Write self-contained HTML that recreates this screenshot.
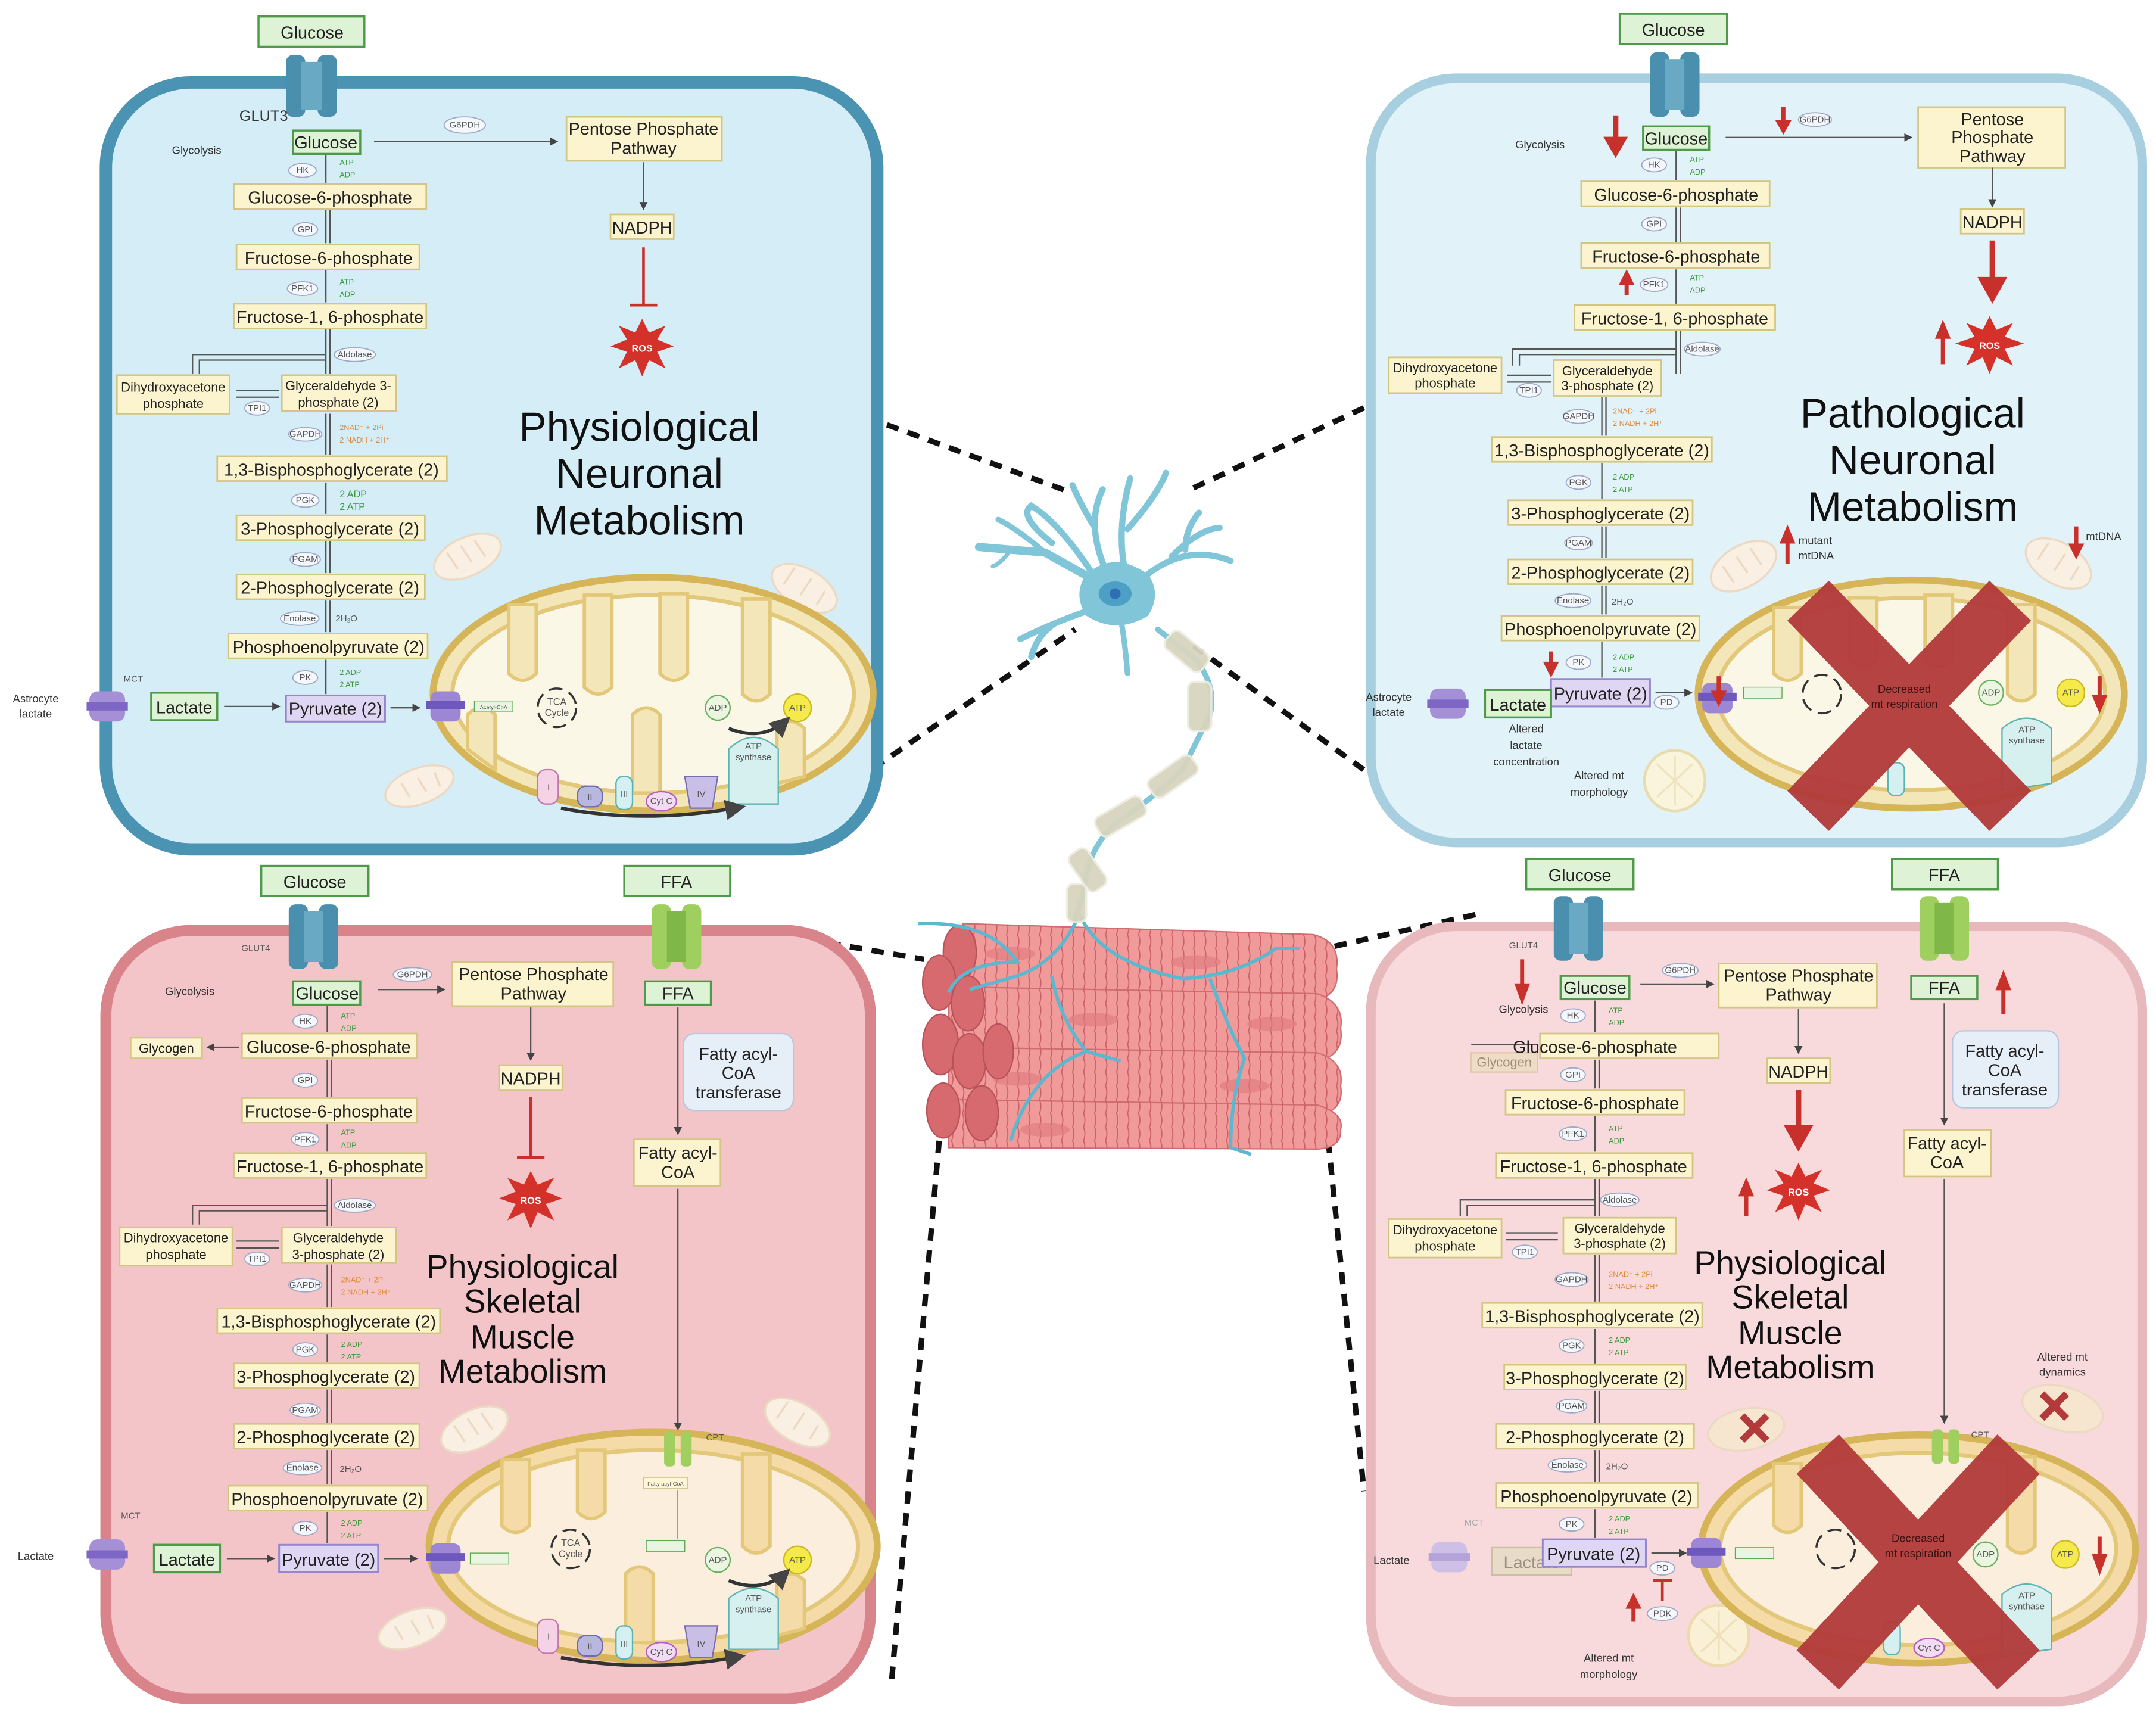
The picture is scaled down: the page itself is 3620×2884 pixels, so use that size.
<!DOCTYPE html>
<html><head><meta charset="utf-8"><style>
html,body{margin:0;padding:0;background:#fff}
svg{display:block}
.b{fill:#fbf4cf;stroke:#d3c685;stroke-width:1.2}
.g{fill:#def3d6;stroke:#4f9a4a;stroke-width:1.5}
.p{fill:#ded6f2;stroke:#9686cc;stroke-width:1.3}
text{font-family:"Liberation Sans",sans-serif}
.t{font-size:12.5px;fill:#222;text-anchor:middle}
.s{font-size:9.5px;fill:#222;text-anchor:middle}
.x{font-size:8px;fill:#333;text-anchor:middle}
.e{fill:#f4f7fc;stroke:#9fa9c6;stroke-width:.8}
.et{font-size:6.5px;fill:#555;text-anchor:middle}
.gr{font-size:5.5px;fill:#3a9a3a}
.or{font-size:5.5px;fill:#e08a3a}
.ttl{font-size:30px;fill:#111;text-anchor:middle}
.ttm{font-size:24px;fill:#111;text-anchor:middle}
.ln{stroke:#555;stroke-width:1;fill:none}
.dash{stroke:#111;stroke-width:4;stroke-dasharray:9 7;fill:none}
.red{stroke:#c8302c;fill:#c8302c}
.fm{fill:#f9efe2;stroke:#ecd9c4;stroke-width:1.5}
.mo{fill:#f3e6b8;stroke:#d6b458;stroke-width:5}
.mi{fill:#fbf7e6;stroke:#e3c87a;stroke-width:3}
.cr{fill:#f3e6b8;stroke:#e3c87a;stroke-width:2.5}
.bx{stroke:#b23a3a;stroke-width:42;stroke-linecap:butt;opacity:.95}
.fs{stroke:#ecd9c4;stroke-width:1.5;fill:none}
</style></head><body>
<svg width="3620" height="2884" viewBox="0 0 1568 1250" preserveAspectRatio="none" xmlns="http://www.w3.org/2000/svg">
<defs>
<marker id="ar" markerWidth="6" markerHeight="6" refX="5" refY="3" orient="auto"><path d="M0,0 L6,3 L0,6z" fill="#444"/></marker>
<pattern id="str" width="8" height="10" patternUnits="userSpaceOnUse"><path d="M4,0 Q6,5 4,10" stroke="#c9606a" stroke-width=".8" fill="none"/></pattern>
</defs>

<path class="dash" d="M615,298 L778,358"/>
<path class="dash" d="M622,568 L782,458"/>
<path class="dash" d="M868,355 L1002,292"/>
<path class="dash" d="M868,470 L1022,582"/>
<path class="dash" d="M555,678 L672,698"/>
<path class="dash" d="M955,692 L1075,665"/>
<path class="dash" d="M683,830 L648,1228"/>
<path class="dash" d="M966,830 L992,1085"/>

<rect x="77" y="60" width="561" height="558" rx="62" fill="#d5edf6" stroke="#4b93b3" stroke-width="9"/>
<rect x="997" y="57" width="561" height="556" rx="62" fill="#e2f2f9" stroke="#a8cfe0" stroke-width="7"/>
<rect x="77" y="677" width="556" height="559" rx="62" fill="#f4c5c8" stroke="#d9848a" stroke-width="8"/>
<rect x="997" y="674" width="561" height="564" rx="62" fill="#f8dadc" stroke="#e7b8bc" stroke-width="7"/>

<!-- TOP LEFT -->
<rect class="g" x="188" y="12" width="77" height="22"/><text class="t" x="227" y="28">Glucose</text>
<rect x="208" y="40" width="14" height="45" rx="5" fill="#4a8fae"/><rect x="231" y="40" width="14" height="45" rx="5" fill="#4a8fae"/><rect x="219" y="45" width="15" height="35" fill="#6aa9c4"/>
<text x="174" y="88" style="font-size:11px;fill:#333">GLUT3</text>
<text class="x" x="143" y="112">Glycolysis</text>
<rect class="g" x="213" y="95" width="49" height="17"/><text class="t" x="237" y="108">Glucose</text>
<path class="ln" d="M272,103 L405,103" marker-end="url(#ar)"/>
<ellipse class="e" cx="338" cy="91" rx="15" ry="6"/><text class="et" x="338" y="93">G6PDH</text>
<rect class="b" x="412" y="85" width="113" height="32"/><text class="t" x="468" y="98">Pentose Phosphate</text><text class="t" x="468" y="112">Pathway</text>
<path class="ln" d="M468,118 L468,152" marker-end="url(#ar)"/>
<rect class="b" x="444" y="156" width="46" height="18"/><text class="t" x="467" y="170">NADPH</text>
<path d="M468,180 L468,222 M458,222 L478,222" stroke="#c8302c" stroke-width="2" fill="none"/>
<polygon points="467,232 472,242 484,237 478,247 490,252 478,256 484,268 472,262 467,274 462,262 450,268 456,256 444,252 456,247 450,237 462,242" fill="#d5312b"/>
<text x="467" y="256" style="font-size:7px;fill:#fff;font-weight:bold" text-anchor="middle">ROS</text>
<path class="ln" d="M237,113 L237,133 M237,152 L237,177 M240,152 L240,177 M237,196 L237,220 M237,239 L237,272 M240,239 L240,272 M237,301 L237,331 M240,301 L240,331 M237,351 L237,374 M237,394 L237,417 M240,394 L240,417 M237,437 L237,460 M240,437 L240,460 M237,480 L237,505"/>
<path class="ln" d="M237,258 L140,258 L140,272 M237,262 L145,262 L145,272 M172,284 L203,284 M172,289 L203,289"/>
<ellipse class="e" cx="220" cy="124" rx="10" ry="5"/><text class="et" x="220" y="126">HK</text>
<text class="gr" x="247" y="120">ATP</text><text class="gr" x="247" y="129">ADP</text>
<rect class="b" x="170" y="134" width="140" height="18"/><text class="t" x="240" y="148">Glucose-6-phosphate</text>
<ellipse class="e" cx="222" cy="167" rx="9" ry="5"/><text class="et" x="222" y="169">GPI</text>
<rect class="b" x="172" y="178" width="133" height="18"/><text class="t" x="239" y="192">Fructose-6-phosphate</text>
<ellipse class="e" cx="220" cy="210" rx="11" ry="5"/><text class="et" x="220" y="212">PFK1</text>
<text class="gr" x="247" y="207">ATP</text><text class="gr" x="247" y="216">ADP</text>
<rect class="b" x="170" y="221" width="140" height="18"/><text class="t" x="240" y="235">Fructose-1, 6-phosphate</text>
<ellipse class="e" cx="258" cy="258" rx="15" ry="5"/><text class="et" x="258" y="260">Aldolase</text>
<rect class="b" x="85" y="273" width="82" height="28"/><text class="s" x="126" y="285">Dihydroxyacetone</text><text class="s" x="126" y="297">phosphate</text>
<rect class="b" x="205" y="273" width="83" height="26"/><text class="s" x="246" y="284">Glyceraldehyde 3-</text><text class="s" x="246" y="296">phosphate (2)</text>
<ellipse class="e" cx="187" cy="297" rx="9" ry="5"/><text class="et" x="187" y="299">TPI1</text>
<ellipse class="e" cx="222" cy="316" rx="12" ry="5"/><text class="et" x="222" y="318">GAPDH</text>
<text class="or" x="247" y="313">2NAD⁺ + 2Pi</text><text class="or" x="247" y="322">2 NADH + 2H⁺</text>
<rect class="b" x="158" y="332" width="167" height="18"/><text class="t" x="241" y="346">1,3-Bisphosphoglycerate (2)</text>
<ellipse class="e" cx="222" cy="364" rx="10" ry="5"/><text class="et" x="222" y="366">PGK</text>
<text class="gr" x="247" y="362" style="font-size:7px">2 ADP</text><text class="gr" x="247" y="371" style="font-size:7px">2 ATP</text>
<rect class="b" x="172" y="375" width="137" height="18"/><text class="t" x="240" y="389">3-Phosphoglycerate (2)</text>
<ellipse class="e" cx="222" cy="407" rx="11" ry="5"/><text class="et" x="222" y="409">PGAM</text>
<rect class="b" x="172" y="418" width="137" height="18"/><text class="t" x="240" y="432">2-Phosphoglycerate (2)</text>
<ellipse class="e" cx="218" cy="450" rx="14" ry="5"/><text class="et" x="218" y="452">Enolase</text><text class="et" x="252" y="452">2H₂O</text>
<rect class="b" x="166" y="461" width="145" height="18"/><text class="t" x="239" y="475">Phosphoenolpyruvate (2)</text>
<ellipse class="e" cx="222" cy="493" rx="9" ry="5"/><text class="et" x="222" y="495">PK</text>
<text class="gr" x="247" y="491">2 ADP</text><text class="gr" x="247" y="500">2 ATP</text>
<rect class="p" x="208" y="506" width="72" height="19"/><text class="t" x="244" y="520">Pyruvate (2)</text>
<rect class="g" x="110" y="504" width="48" height="20"/><text class="t" x="134" y="519">Lactate</text>
<path class="ln" d="M163,514 L203,514" marker-end="url(#ar)"/><path class="ln" d="M284,515 L305,515" marker-end="url(#ar)"/>
<text class="x" x="26" y="511">Astrocyte</text><text class="x" x="26" y="522">lactate</text><text class="et" x="97" y="496">MCT</text>
<rect x="65" y="503" width="26" height="22" rx="6" fill="#a58fd6"/><rect x="63" y="511" width="30" height="6" fill="#7e67c4"/>
<ellipse class="fm" cx="340" cy="405" rx="26" ry="14" transform="rotate(-25 340 405)"/>
<path class="fs" d="M325,402 L333,414 M335,397 L343,409 M345,393 L353,405"/>
<ellipse class="fm" cx="585" cy="428" rx="26" ry="14" transform="rotate(30 585 428)"/>
<path class="fs" d="M570,425 L578,413 M582,433 L590,421 M594,440 L600,430"/>
<ellipse class="fm" cx="305" cy="572" rx="26" ry="13" transform="rotate(-20 305 572)"/>
<path class="fs" d="M292,570 L298,580 M304,566 L310,576 M316,562 L320,572"/>
<ellipse class="mo" cx="475" cy="505" rx="160" ry="85"/>
<ellipse class="mi" cx="475" cy="505" rx="146" ry="72"/>
<path class="cr" d="M370,440 L370,490 Q380,500 390,490 L390,440 Z M425,433 L425,500 Q435,510 445,500 L445,433 Z M480,432 L480,490 Q490,500 500,490 L500,432 Z M540,436 L540,505 Q550,515 560,505 L560,436 Z M460,577 L460,520 Q470,510 480,520 L480,577 Z M565,570 L565,530 Q575,520 585,530 L585,565Z M340,545 L340,520 Q350,510 360,520 L360,560Z"/>
<rect x="313" y="503" width="22" height="22" rx="5" fill="#9d87d4"/><rect x="310" y="510" width="28" height="6" fill="#6f58bd"/>
<rect x="345" y="510" width="28" height="8" fill="#e9f5e0" stroke="#5ea856" stroke-width=".6"/><text class="et" x="359" y="516" style="font-size:4px">Acetyl-CoA</text>
<circle cx="405" cy="515" r="14" fill="none" stroke="#333" stroke-width="1.5" stroke-dasharray="10 5"/><text class="et" x="405" y="513" style="font-size:7px">TCA</text><text class="et" x="405" y="521" style="font-size:7px">Cycle</text>
<circle cx="522" cy="515" r="9" fill="#eaf6e0" stroke="#6bb060"/><text class="et" x="522" y="517">ADP</text>
<circle cx="580" cy="515" r="10" fill="#f6e94a" stroke="#c9b827"/><text class="et" x="580" y="517">ATP</text>
<path d="M530,530 Q555,540 573,523" stroke="#333" stroke-width="2.5" fill="none" marker-end="url(#ar)"/>
<path d="M530,585 L530,545 Q548,528 566,545 L566,585 Z" fill="#d6efef" stroke="#5cb3b3"/><text class="et" x="548" y="545">ATP</text><text class="et" x="548" y="553">synthase</text>
<rect x="391" y="560" width="15" height="25" rx="6" fill="#f5d2e6" stroke="#c07aa8"/><text class="et" x="399" y="575">I</text>
<rect x="420" y="572" width="18" height="15" rx="6" fill="#b7b7e0" stroke="#6b6bb0"/><text class="et" x="429" y="582">II</text>
<rect x="448" y="565" width="12" height="24" rx="5" fill="#d5f0f0" stroke="#5cb3b3"/><text class="et" x="454" y="580">III</text>
<ellipse cx="481" cy="583" rx="11" ry="7" fill="#f1dcf3" stroke="#b65fc0"/><text class="et" x="481" y="585">Cyt C</text>
<path d="M498,565 L522,565 L518,588 L502,588Z" fill="#c9bfe6" stroke="#7a6bb5"/><text class="et" x="510" y="580">IV</text>
<path d="M408,588 Q470,600 540,587" stroke="#333" stroke-width="2.5" fill="none" marker-end="url(#ar)"/>
<text class="ttl" x="465" y="321">Physiological</text><text class="ttl" x="465" y="355">Neuronal</text><text class="ttl" x="465" y="389">Metabolism</text>

<!-- TOP RIGHT -->
<rect class="g" x="1178" y="10" width="78" height="22"/><text class="t" x="1217" y="26">Glucose</text>
<rect x="1200" y="38" width="14" height="47" rx="5" fill="#4a8fae"/><rect x="1222" y="38" width="14" height="47" rx="5" fill="#4a8fae"/><rect x="1211" y="43" width="14" height="37" fill="#6aa9c4"/>
<text class="x" x="1120" y="108">Glycolysis</text>
<path class="red" d="M1175,84 L1175,103" stroke-width="4"/><polygon class="red" points="1167,100 1183,100 1175,114"/>
<rect class="g" x="1195" y="92" width="48" height="17"/><text class="t" x="1219" y="105">Glucose</text>
<path class="ln" d="M1255,100 L1390,100" marker-end="url(#ar)"/>
<path class="red" d="M1297,78 L1297,90" stroke-width="3"/><polygon class="red" points="1292,88 1302,88 1297,97"/>
<ellipse class="e" cx="1320" cy="87" rx="12" ry="5"/><text class="et" x="1320" y="89">G6PDH</text>
<rect class="b" x="1395" y="78" width="107" height="44"/><text class="t" x="1449" y="91">Pentose</text><text class="t" x="1449" y="104">Phosphate</text><text class="t" x="1449" y="118">Pathway</text>
<path class="ln" d="M1449,122 L1449,150" marker-end="url(#ar)"/>
<rect class="b" x="1426" y="152" width="46" height="18"/><text class="t" x="1449" y="166">NADPH</text>
<path class="red" d="M1449,175 L1449,205" stroke-width="4"/><polygon class="red" points="1439,202 1459,202 1449,220"/>
<polygon points="1447,230 1452,240 1464,235 1458,245 1472,250 1458,254 1464,266 1452,260 1447,272 1442,260 1430,266 1436,254 1422,250 1436,245 1430,235 1442,240" fill="#d5312b"/>
<text x="1447" y="254" style="font-size:7px;fill:#fff;font-weight:bold" text-anchor="middle">ROS</text>
<path class="red" d="M1413,265 L1413,243" stroke-width="3"/><polygon class="red" points="1408,246 1418,246 1413,234"/>
<path class="ln" d="M1219,110 L1219,131 M1219,151 L1219,176 M1222,151 L1222,176 M1219,196 L1219,221 M1219,241 L1219,272 M1222,241 L1222,272 M1165,289 L1165,317 M1168,289 L1168,317 M1165,337 L1165,363 M1165,383 L1165,406 M1168,383 L1168,406 M1165,426 L1165,447 M1168,426 L1168,447 M1165,467 L1165,493"/>
<path class="ln" d="M1219,254 L1100,254 L1100,266 M1219,258 L1105,258 L1105,266 M1096,273 L1128,273 M1096,278 L1128,278"/>
<ellipse class="e" cx="1203" cy="120" rx="9" ry="5"/><text class="et" x="1203" y="122">HK</text>
<text class="gr" x="1229" y="118">ATP</text><text class="gr" x="1229" y="127">ADP</text>
<rect class="b" x="1150" y="132" width="137" height="18"/><text class="t" x="1219" y="146">Glucose-6-phosphate</text>
<ellipse class="e" cx="1203" cy="163" rx="9" ry="5"/><text class="et" x="1203" y="165">GPI</text>
<rect class="b" x="1150" y="177" width="137" height="18"/><text class="t" x="1219" y="191">Fructose-6-phosphate</text>
<path class="red" d="M1183,215 L1183,205" stroke-width="3"/><polygon class="red" points="1178,207 1188,207 1183,197"/>
<ellipse class="e" cx="1203" cy="207" rx="10" ry="5"/><text class="et" x="1203" y="209">PFK1</text>
<text class="gr" x="1229" y="204">ATP</text><text class="gr" x="1229" y="213">ADP</text>
<rect class="b" x="1145" y="222" width="146" height="18"/><text class="t" x="1218" y="236">Fructose-1, 6-phosphate</text>
<ellipse class="e" cx="1238" cy="254" rx="13" ry="5"/><text class="et" x="1238" y="256">Aldolase</text>
<rect class="b" x="1010" y="260" width="82" height="26"/><text class="s" x="1051" y="271">Dihydroxyacetone</text><text class="s" x="1051" y="282">phosphate</text>
<rect class="b" x="1130" y="262" width="78" height="26"/><text class="s" x="1169" y="273">Glyceraldehyde</text><text class="s" x="1169" y="284">3-phosphate (2)</text>
<ellipse class="e" cx="1112" cy="284" rx="9" ry="5"/><text class="et" x="1112" y="286">TPI1</text>
<ellipse class="e" cx="1148" cy="303" rx="11" ry="5"/><text class="et" x="1148" y="305">GAPDH</text>
<text class="or" x="1173" y="301">2NAD⁺ + 2Pi</text><text class="or" x="1173" y="310">2 NADH + 2H⁺</text>
<rect class="b" x="1085" y="318" width="160" height="18"/><text class="t" x="1165" y="332">1,3-Bisphosphoglycerate (2)</text>
<ellipse class="e" cx="1148" cy="351" rx="9" ry="5"/><text class="et" x="1148" y="353">PGK</text>
<text class="gr" x="1173" y="349">2 ADP</text><text class="gr" x="1173" y="358">2 ATP</text>
<rect class="b" x="1097" y="364" width="134" height="18"/><text class="t" x="1164" y="378">3-Phosphoglycerate (2)</text>
<ellipse class="e" cx="1148" cy="395" rx="10" ry="5"/><text class="et" x="1148" y="397">PGAM</text>
<rect class="b" x="1097" y="407" width="134" height="18"/><text class="t" x="1164" y="421">2-Phosphoglycerate (2)</text>
<ellipse class="e" cx="1144" cy="437" rx="13" ry="5"/><text class="et" x="1144" y="439">Enolase</text><text class="et" x="1180" y="440">2H₂O</text>
<rect class="b" x="1092" y="448" width="144" height="18"/><text class="t" x="1164" y="462">Phosphoenolpyruvate (2)</text>
<ellipse class="e" cx="1148" cy="482" rx="9" ry="5"/><text class="et" x="1148" y="484">PK</text>
<text class="gr" x="1173" y="480">2 ADP</text><text class="gr" x="1173" y="489">2 ATP</text>
<path class="red" d="M1128,474 L1128,484" stroke-width="3"/><polygon class="red" points="1123,482 1133,482 1128,492"/>
<rect class="p" x="1128" y="494" width="72" height="20"/><text class="t" x="1164" y="509">Pyruvate (2)</text>
<rect class="g" x="1080" y="502" width="48" height="20"/><text class="t" x="1104" y="517">Lactate</text>
<ellipse class="e" cx="1212" cy="511" rx="9" ry="5"/><text class="et" x="1212" y="513">PD</text>
<path class="ln" d="M1204,504 L1230,504" marker-end="url(#ar)"/>
<text class="x" x="1010" y="510">Astrocyte</text><text class="x" x="1010" y="521">lactate</text>
<rect x="1040" y="501" width="26" height="22" rx="6" fill="#a58fd6"/><rect x="1038" y="509" width="30" height="6" fill="#7e67c4"/>
<text class="x" x="1110" y="533">Altered</text><text class="x" x="1110" y="545">lactate</text><text class="x" x="1110" y="557">concentration</text>
<text class="x" x="1163" y="567">Altered mt</text><text class="x" x="1163" y="579">morphology</text>
<circle cx="1218" cy="568" r="22" fill="#faf4dc" stroke="#e8dcae" stroke-width="2"/>
<path d="M1218,550 L1218,586 M1205,556 L1231,580 M1231,556 L1205,580" stroke="#efe4c0" stroke-width="1.5"/>
<text class="ttl" x="1391" y="311">Pathological</text><text class="ttl" x="1391" y="345">Neuronal</text><text class="ttl" x="1391" y="379">Metabolism</text>
<ellipse class="fm" cx="1268" cy="412" rx="26" ry="15" transform="rotate(-30 1268 412)"/>
<path class="fs" d="M1253,412 L1261,424 M1263,405 L1271,417 M1273,399 L1281,411"/>
<ellipse class="fm" cx="1497" cy="410" rx="26" ry="15" transform="rotate(30 1497 410)"/>
<path class="fs" d="M1482,407 L1490,395 M1494,415 L1502,403 M1506,422 L1512,412"/>
<path class="red" d="M1300,410 L1300,393" stroke-width="3"/><polygon class="red" points="1295,395 1305,395 1300,383"/>
<text class="x" x="1308" y="396" style="text-anchor:start">mutant</text><text class="x" x="1308" y="407" style="text-anchor:start">mtDNA</text>
<path class="red" d="M1510,383 L1510,398" stroke-width="3"/><polygon class="red" points="1505,396 1515,396 1510,406"/>
<text class="x" x="1517" y="393" style="text-anchor:start">mtDNA</text>
<ellipse class="mo" cx="1390" cy="505" rx="155" ry="83"/>
<ellipse class="mi" cx="1390" cy="505" rx="141" ry="70"/>
<path class="cr" d="M1290,442 L1290,490 Q1300,500 1310,490 L1310,442Z M1345,435 L1345,480 Q1355,490 1365,480 L1365,435Z M1400,433 L1400,480 Q1410,490 1420,480 L1420,433Z M1460,440 L1460,505 Q1470,515 1480,505 L1480,440Z"/>
<rect x="1238" y="497" width="22" height="22" rx="5" fill="#9d87d4"/><rect x="1235" y="504" width="28" height="6" fill="#6f58bd"/>
<path class="red" d="M1250,492 L1250,505" stroke-width="3"/><polygon class="red" points="1245,503 1255,503 1250,513"/>
<rect x="1268" y="500" width="28" height="8" fill="#e9f5e0" stroke="#5ea856" stroke-width=".6"/>
<circle cx="1325" cy="505" r="14" fill="none" stroke="#333" stroke-width="1.5" stroke-dasharray="10 5"/>
<circle cx="1448" cy="504" r="9" fill="#eaf6e0" stroke="#6bb060"/><text class="et" x="1448" y="506">ADP</text>
<circle cx="1506" cy="504" r="10" fill="#f6e94a" stroke="#c9b827"/><text class="et" x="1506" y="506">ATP</text>
<path class="red" d="M1527,492 L1527,508" stroke-width="3"/><polygon class="red" points="1522,506 1532,506 1527,518"/>
<path d="M1456,575 L1456,530 Q1474,515 1492,530 L1492,570Z" fill="#d6efef" stroke="#5cb3b3"/><text class="et" x="1474" y="533">ATP</text><text class="et" x="1474" y="541">synthase</text>
<rect x="1373" y="555" width="12" height="24" rx="5" fill="#d5f0f0" stroke="#5cb3b3"/>
<path class="bx" d="M1315,437 L1462,590 M1462,437 L1315,590"/>
<text class="x" x="1385" y="504" style="fill:#3a1010">Decreased</text><text class="x" x="1385" y="515" style="fill:#3a1010">mt respiration</text>

<!-- BOTTOM LEFT -->
<rect class="g" x="190" y="630" width="78" height="22"/><text class="t" x="229" y="646">Glucose</text>
<rect x="210" y="658" width="14" height="47" rx="5" fill="#4a8fae"/><rect x="232" y="658" width="14" height="47" rx="5" fill="#4a8fae"/><rect x="221" y="663" width="14" height="37" fill="#6aa9c4"/>
<text class="et" x="186" y="692">GLUT4</text>
<rect class="g" x="454" y="630" width="77" height="22"/><text class="t" x="492" y="646">FFA</text>
<rect x="474" y="658" width="14" height="47" rx="5" fill="#9fcf5e"/><rect x="496" y="658" width="14" height="47" rx="5" fill="#9fcf5e"/><rect x="485" y="663" width="14" height="37" fill="#7fb848"/>
<text class="x" x="138" y="724">Glycolysis</text>
<rect class="g" x="213" y="714" width="49" height="17"/><text class="t" x="238" y="727">Glucose</text>
<path class="ln" d="M275,720 L323,720" marker-end="url(#ar)"/>
<ellipse class="e" cx="300" cy="709" rx="14" ry="5"/><text class="et" x="300" y="711">G6PDH</text>
<rect class="b" x="329" y="700" width="117" height="32"/><text class="t" x="388" y="713">Pentose Phosphate</text><text class="t" x="388" y="727">Pathway</text>
<path class="ln" d="M386,733 L386,771" marker-end="url(#ar)"/>
<rect class="b" x="363" y="775" width="46" height="18"/><text class="t" x="386" y="789">NADPH</text>
<path d="M386,798 L386,842 M376,842 L396,842" stroke="#c8302c" stroke-width="2" fill="none"/>
<polygon points="386,852 391,862 403,857 397,867 409,872 397,876 403,888 391,882 386,894 381,882 369,888 375,876 363,872 375,867 369,857 381,862" fill="#d5312b"/>
<text x="386" y="876" style="font-size:7px;fill:#fff;font-weight:bold" text-anchor="middle">ROS</text>
<rect class="g" x="469" y="714" width="48" height="17"/><text class="t" x="493" y="727">FFA</text>
<rect x="497" y="752" width="80" height="56" rx="8" fill="#e6eef8" stroke="#b7c7dd"/><text class="t" x="537" y="771">Fatty acyl-</text><text class="t" x="537" y="785">CoA</text><text class="t" x="537" y="799">transferase</text>
<path class="ln" d="M493,733 L493,825" marker-end="url(#ar)"/>
<rect class="b" x="461" y="829" width="63" height="34"/><text class="t" x="493" y="843">Fatty acyl-</text><text class="t" x="493" y="857">CoA</text>
<path class="ln" d="M493,865 L493,1040" marker-end="url(#ar)"/>
<rect class="b" x="95" y="755" width="52" height="15"/><text class="s" x="121" y="766">Glycogen</text>
<path class="ln" d="M174,762 L151,762" marker-end="url(#ar)"/>
<path class="ln" d="M238,732 L238,751 M238,771 L238,798 M241,771 L241,798 M238,818 L238,838 M238,858 L238,892 M241,858 L241,892 M238,920 L238,951 M241,920 L241,951 M238,971 L238,991 M238,1011 L238,1035 M241,1011 L241,1035 M238,1055 L238,1080 M241,1055 L241,1080 M238,1100 L238,1123"/>
<path class="ln" d="M238,877 L140,877 L140,891 M238,881 L145,881 L145,891 M172,903 L203,903 M172,908 L203,908"/>
<ellipse class="e" cx="222" cy="743" rx="9" ry="5"/><text class="et" x="222" y="745">HK</text>
<text class="gr" x="248" y="741">ATP</text><text class="gr" x="248" y="750">ADP</text>
<rect class="b" x="176" y="752" width="127" height="18"/><text class="t" x="239" y="766">Glucose-6-phosphate</text>
<ellipse class="e" cx="222" cy="786" rx="9" ry="5"/><text class="et" x="222" y="788">GPI</text>
<rect class="b" x="176" y="799" width="127" height="18"/><text class="t" x="239" y="813">Fructose-6-phosphate</text>
<ellipse class="e" cx="222" cy="829" rx="10" ry="5"/><text class="et" x="222" y="831">PFK1</text>
<text class="gr" x="248" y="826">ATP</text><text class="gr" x="248" y="835">ADP</text>
<rect class="b" x="170" y="839" width="140" height="18"/><text class="t" x="240" y="853">Fructose-1, 6-phosphate</text>
<ellipse class="e" cx="258" cy="877" rx="15" ry="5"/><text class="et" x="258" y="879">Aldolase</text>
<rect class="b" x="87" y="893" width="82" height="28"/><text class="s" x="128" y="904">Dihydroxyacetone</text><text class="s" x="128" y="916">phosphate</text>
<rect class="b" x="205" y="893" width="83" height="26"/><text class="s" x="246" y="904">Glyceraldehyde</text><text class="s" x="246" y="916">3-phosphate (2)</text>
<ellipse class="e" cx="187" cy="916" rx="9" ry="5"/><text class="et" x="187" y="918">TPI1</text>
<ellipse class="e" cx="222" cy="935" rx="12" ry="5"/><text class="et" x="222" y="937">GAPDH</text>
<text class="or" x="248" y="933">2NAD⁺ + 2Pi</text><text class="or" x="248" y="942">2 NADH + 2H⁺</text>
<rect class="b" x="158" y="952" width="162" height="18"/><text class="t" x="239" y="966">1,3-Bisphosphoglycerate (2)</text>
<ellipse class="e" cx="222" cy="982" rx="9" ry="5"/><text class="et" x="222" y="984">PGK</text>
<text class="gr" x="248" y="980">2 ADP</text><text class="gr" x="248" y="989">2 ATP</text>
<rect class="b" x="170" y="992" width="135" height="18"/><text class="t" x="237" y="1006">3-Phosphoglycerate (2)</text>
<ellipse class="e" cx="222" cy="1026" rx="11" ry="5"/><text class="et" x="222" y="1028">PGAM</text>
<rect class="b" x="170" y="1036" width="135" height="18"/><text class="t" x="237" y="1050">2-Phosphoglycerate (2)</text>
<ellipse class="e" cx="220" cy="1068" rx="14" ry="5"/><text class="et" x="220" y="1070">Enolase</text><text class="et" x="255" y="1071">2H₂O</text>
<rect class="b" x="166" y="1081" width="145" height="18"/><text class="t" x="238" y="1095">Phosphoenolpyruvate (2)</text>
<ellipse class="e" cx="222" cy="1112" rx="9" ry="5"/><text class="et" x="222" y="1114">PK</text>
<text class="gr" x="248" y="1110">2 ADP</text><text class="gr" x="248" y="1119">2 ATP</text>
<rect class="p" x="203" y="1124" width="72" height="20"/><text class="t" x="239" y="1139">Pyruvate (2)</text>
<rect class="g" x="112" y="1124" width="48" height="20"/><text class="t" x="136" y="1139">Lactate</text>
<path class="ln" d="M165,1134 L199,1134" marker-end="url(#ar)"/><path class="ln" d="M279,1134 L303,1134" marker-end="url(#ar)"/>
<text class="x" x="26" y="1135">Lactate</text><text class="et" x="95" y="1105">MCT</text>
<rect x="65" y="1120" width="26" height="22" rx="6" fill="#a58fd6"/><rect x="63" y="1128" width="30" height="6" fill="#7e67c4"/>
<text class="ttm" x="380" y="930">Physiological</text><text class="ttm" x="380" y="955">Skeletal</text><text class="ttm" x="380" y="981">Muscle</text><text class="ttm" x="380" y="1006">Metabolism</text>
<ellipse class="fm" cx="345" cy="1040" rx="26" ry="14" transform="rotate(-25 345 1040)"/>
<path class="fs" d="M330,1037 L338,1049 M340,1032 L348,1044 M350,1028 L358,1040"/>
<ellipse class="fm" cx="580" cy="1035" rx="26" ry="14" transform="rotate(30 580 1035)"/>
<path class="fs" d="M565,1032 L573,1020 M577,1040 L585,1028 M589,1047 L595,1037"/>
<ellipse class="fm" cx="300" cy="1185" rx="26" ry="13" transform="rotate(-20 300 1185)"/>
<path class="fs" d="M287,1183 L293,1193 M299,1179 L305,1189 M311,1175 L315,1185"/>
<ellipse class="mo" cx="475" cy="1125" rx="163" ry="83" style="fill:#f5dba8"/>
<ellipse class="mi" cx="475" cy="1125" rx="149" ry="70" style="fill:#fbeedd"/>
<path class="cr" d="M365,1062 L365,1110 Q375,1120 385,1110 L385,1062Z M420,1055 L420,1100 Q430,1110 440,1100 L440,1055Z M540,1058 L540,1125 Q550,1135 560,1125 L560,1058Z M455,1195 L455,1145 Q465,1135 475,1145 L475,1195Z M565,1190 L565,1150 Q575,1140 585,1150 L585,1185Z" style="fill:#f5dba8"/>
<rect x="483" y="1042" width="8" height="25" rx="3" fill="#9fcf5e"/><rect x="495" y="1042" width="8" height="25" rx="3" fill="#9fcf5e"/>
<text class="et" x="520" y="1048">CPT</text>
<rect x="468" y="1075" width="32" height="8" fill="#fff6d8" stroke="#cfc28a" stroke-width=".5"/><text class="et" x="484" y="1081" style="font-size:4px">Fatty acyl-CoA</text>
<path class="ln" d="M493,1084 L493,1120" style="stroke-width:.6"/>
<rect x="470" y="1121" width="28" height="8" fill="#e9f5e0" stroke="#5ea856" stroke-width=".6"/>
<rect x="313" y="1123" width="22" height="22" rx="5" fill="#9d87d4"/><rect x="310" y="1130" width="28" height="6" fill="#6f58bd"/>
<rect x="342" y="1130" width="28" height="8" fill="#e9f5e0" stroke="#5ea856" stroke-width=".6"/>
<circle cx="415" cy="1127" r="14" fill="none" stroke="#333" stroke-width="1.5" stroke-dasharray="10 5"/><text class="et" x="415" y="1125" style="font-size:7px">TCA</text><text class="et" x="415" y="1133" style="font-size:7px">Cycle</text>
<circle cx="522" cy="1135" r="9" fill="#eaf6e0" stroke="#6bb060"/><text class="et" x="522" y="1137">ADP</text>
<circle cx="580" cy="1135" r="10" fill="#f6e94a" stroke="#c9b827"/><text class="et" x="580" y="1137">ATP</text>
<path d="M530,1150 Q555,1160 573,1143" stroke="#333" stroke-width="2.5" fill="none" marker-end="url(#ar)"/>
<path d="M530,1200 L530,1163 Q548,1148 566,1163 L566,1200Z" fill="#d6efef" stroke="#5cb3b3"/><text class="et" x="548" y="1165">ATP</text><text class="et" x="548" y="1173">synthase</text>
<rect x="391" y="1178" width="15" height="25" rx="6" fill="#f5d2e6" stroke="#c07aa8"/><text class="et" x="399" y="1193">I</text>
<rect x="420" y="1190" width="18" height="15" rx="6" fill="#b7b7e0" stroke="#6b6bb0"/><text class="et" x="429" y="1200">II</text>
<rect x="448" y="1183" width="12" height="24" rx="5" fill="#d5f0f0" stroke="#5cb3b3"/><text class="et" x="454" y="1198">III</text>
<ellipse cx="481" cy="1202" rx="11" ry="7" fill="#f1dcf3" stroke="#b65fc0"/><text class="et" x="481" y="1204">Cyt C</text>
<path d="M498,1183 L522,1183 L518,1206 L502,1206Z" fill="#c9bfe6" stroke="#7a6bb5"/><text class="et" x="510" y="1198">IV</text>
<path d="M408,1206 Q470,1218 540,1205" stroke="#333" stroke-width="2.5" fill="none" marker-end="url(#ar)"/>

<!-- BOTTOM RIGHT -->
<rect class="g" x="1110" y="625" width="78" height="22"/><text class="t" x="1149" y="641">Glucose</text>
<rect x="1130" y="652" width="14" height="47" rx="5" fill="#4a8fae"/><rect x="1152" y="652" width="14" height="47" rx="5" fill="#4a8fae"/><rect x="1141" y="657" width="14" height="37" fill="#6aa9c4"/>
<text class="et" x="1108" y="690">GLUT4</text>
<rect class="g" x="1376" y="625" width="77" height="22"/><text class="t" x="1414" y="641">FFA</text>
<rect x="1396" y="652" width="14" height="47" rx="5" fill="#9fcf5e"/><rect x="1418" y="652" width="14" height="47" rx="5" fill="#9fcf5e"/><rect x="1407" y="657" width="14" height="37" fill="#7fb848"/>
<path class="red" d="M1107,698 L1107,718" stroke-width="3"/><polygon class="red" points="1102,716 1112,716 1107,730"/>
<text class="x" x="1108" y="737">Glycolysis</text>
<rect class="g" x="1135" y="710" width="50" height="17"/><text class="t" x="1160" y="723">Glucose</text>
<path class="ln" d="M1193,716 L1246,716" marker-end="url(#ar)"/>
<ellipse class="e" cx="1222" cy="706" rx="13" ry="5"/><text class="et" x="1222" y="708">G6PDH</text>
<rect class="b" x="1250" y="701" width="115" height="32"/><text class="t" x="1308" y="714">Pentose Phosphate</text><text class="t" x="1308" y="728">Pathway</text>
<path class="ln" d="M1308,734 L1308,766" marker-end="url(#ar)"/>
<rect class="b" x="1285" y="770" width="46" height="18"/><text class="t" x="1308" y="784">NADPH</text>
<path class="red" d="M1308,793 L1308,822" stroke-width="4"/><polygon class="red" points="1298,819 1318,819 1308,837"/>
<polygon points="1308,846 1313,856 1325,851 1319,861 1331,866 1319,870 1325,882 1313,876 1308,888 1303,876 1291,882 1297,870 1285,866 1297,861 1291,851 1303,856" fill="#d5312b"/>
<text x="1308" y="870" style="font-size:7px;fill:#fff;font-weight:bold" text-anchor="middle">ROS</text>
<path class="red" d="M1270,885 L1270,868" stroke-width="3"/><polygon class="red" points="1265,870 1275,870 1270,858"/>
<rect class="g" x="1390" y="710" width="48" height="17"/><text class="t" x="1414" y="723">FFA</text>
<path class="red" d="M1457,738 L1457,718" stroke-width="3"/><polygon class="red" points="1452,720 1462,720 1457,707"/>
<rect x="1420" y="750" width="77" height="56" rx="8" fill="#e6eef8" stroke="#b7c7dd"/><text class="t" x="1458" y="769">Fatty acyl-</text><text class="t" x="1458" y="783">CoA</text><text class="t" x="1458" y="797">transferase</text>
<path class="ln" d="M1414,730 L1414,818" marker-end="url(#ar)"/>
<rect class="b" x="1385" y="822" width="63" height="34"/><text class="t" x="1416" y="836">Fatty acyl-</text><text class="t" x="1416" y="850">CoA</text>
<path class="ln" d="M1414,858 L1414,1035" marker-end="url(#ar)"/>
<rect x="1070" y="766" width="48" height="14" fill="#efdcc6" stroke="#e2c6a8"/><text class="s" x="1094" y="776" style="fill:#a08a78">Glycogen</text>
<path class="ln" d="M1118,760 L1070,760"/>
<path class="ln" d="M1160,728 L1160,751 M1160,771 L1160,792 M1163,771 L1163,792 M1160,812 L1160,838 M1160,858 L1160,885 M1163,858 L1163,885 M1160,913 L1160,947 M1163,913 L1163,947 M1160,967 L1160,992 M1160,1012 L1160,1035 M1163,1012 L1163,1035 M1160,1055 L1160,1078 M1163,1055 L1163,1078 M1160,1098 L1160,1119"/>
<path class="ln" d="M1160,873 L1062,873 L1062,885 M1160,877 L1067,877 L1067,885 M1095,897 L1133,897 M1095,902 L1133,902"/>
<ellipse class="e" cx="1144" cy="739" rx="9" ry="5"/><text class="et" x="1144" y="741">HK</text>
<text class="gr" x="1170" y="737">ATP</text><text class="gr" x="1170" y="746">ADP</text>
<rect class="b" x="1120" y="752" width="130" height="18"/><text class="t" x="1160" y="766">Glucose-6-phosphate</text>
<ellipse class="e" cx="1144" cy="782" rx="9" ry="5"/><text class="et" x="1144" y="784">GPI</text>
<rect class="b" x="1095" y="793" width="130" height="18"/><text class="t" x="1160" y="807">Fructose-6-phosphate</text>
<ellipse class="e" cx="1144" cy="825" rx="10" ry="5"/><text class="et" x="1144" y="827">PFK1</text>
<text class="gr" x="1170" y="823">ATP</text><text class="gr" x="1170" y="832">ADP</text>
<rect class="b" x="1088" y="839" width="143" height="18"/><text class="t" x="1159" y="853">Fructose-1, 6-phosphate</text>
<ellipse class="e" cx="1178" cy="873" rx="14" ry="5"/><text class="et" x="1178" y="875">Aldolase</text>
<rect class="b" x="1010" y="887" width="82" height="28"/><text class="s" x="1051" y="898">Dihydroxyacetone</text><text class="s" x="1051" y="910">phosphate</text>
<rect class="b" x="1137" y="886" width="82" height="26"/><text class="s" x="1178" y="897">Glyceraldehyde</text><text class="s" x="1178" y="908">3-phosphate (2)</text>
<ellipse class="e" cx="1109" cy="911" rx="9" ry="5"/><text class="et" x="1109" y="913">TPI1</text>
<ellipse class="e" cx="1143" cy="931" rx="12" ry="5"/><text class="et" x="1143" y="933">GAPDH</text>
<text class="or" x="1170" y="929">2NAD⁺ + 2Pi</text><text class="or" x="1170" y="938">2 NADH + 2H⁺</text>
<rect class="b" x="1078" y="948" width="160" height="18"/><text class="t" x="1158" y="962">1,3-Bisphosphoglycerate (2)</text>
<ellipse class="e" cx="1143" cy="979" rx="9" ry="5"/><text class="et" x="1143" y="981">PGK</text>
<text class="gr" x="1170" y="977">2 ADP</text><text class="gr" x="1170" y="986">2 ATP</text>
<rect class="b" x="1094" y="993" width="132" height="18"/><text class="t" x="1160" y="1007">3-Phosphoglycerate (2)</text>
<ellipse class="e" cx="1143" cy="1023" rx="11" ry="5"/><text class="et" x="1143" y="1025">PGAM</text>
<rect class="b" x="1088" y="1036" width="144" height="18"/><text class="t" x="1160" y="1050">2-Phosphoglycerate (2)</text>
<ellipse class="e" cx="1140" cy="1066" rx="14" ry="5"/><text class="et" x="1140" y="1068">Enolase</text><text class="et" x="1176" y="1069">2H₂O</text>
<rect class="b" x="1088" y="1079" width="147" height="18"/><text class="t" x="1161" y="1093">Phosphoenolpyruvate (2)</text>
<ellipse class="e" cx="1143" cy="1109" rx="9" ry="5"/><text class="et" x="1143" y="1111">PK</text>
<text class="gr" x="1170" y="1107">2 ADP</text><text class="gr" x="1170" y="1116">2 ATP</text>
<rect x="1085" y="1126" width="58" height="20" fill="#e8dcc8" stroke="#cdbfa6"/><text class="t" x="1114" y="1141" style="fill:#9a8f80">Lactate</text>
<rect class="p" x="1122" y="1120" width="75" height="20"/><text class="t" x="1159" y="1135">Pyruvate (2)</text>
<path class="ln" d="M1201,1130 L1226,1130" marker-end="url(#ar)"/>
<text class="x" x="1012" y="1138">Lactate</text><text class="et" x="1072" y="1110" style="fill:#aaa">MCT</text>
<rect x="1041" y="1122" width="26" height="22" rx="6" fill="#cdbfe6"/><rect x="1039" y="1130" width="30" height="6" fill="#b3a3d9"/>
<ellipse class="e" cx="1209" cy="1141" rx="9" ry="5"/><text class="et" x="1209" y="1143">PD</text>
<path d="M1209,1165 L1209,1150 M1202,1150 L1216,1150" stroke="#c8302c" stroke-width="2"/>
<ellipse class="e" cx="1209" cy="1174" rx="11" ry="5"/><text class="et" x="1209" y="1176">PDK</text>
<path class="red" d="M1188,1180 L1188,1168" stroke-width="3"/><polygon class="red" points="1183,1170 1193,1170 1188,1160"/>
<text class="x" x="1170" y="1209">Altered mt</text><text class="x" x="1170" y="1221">morphology</text>
<circle cx="1250" cy="1190" r="22" fill="#faf0d6" stroke="#ecd9ae" stroke-width="2"/>
<path d="M1250,1172 L1250,1208 M1237,1178 L1263,1202 M1263,1178 L1237,1202" stroke="#efe0bc" stroke-width="1.5"/>
<text class="ttm" x="1302" y="927">Physiological</text><text class="ttm" x="1302" y="952">Skeletal</text><text class="ttm" x="1302" y="978">Muscle</text><text class="ttm" x="1302" y="1003">Metabolism</text>
<text class="x" x="1500" y="990">Altered mt</text><text class="x" x="1500" y="1001">dynamics</text>
<ellipse class="fm" cx="1270" cy="1040" rx="28" ry="15" transform="rotate(-10 1270 1040)" style="fill:#f7e6cf"/>
<ellipse class="fm" cx="1500" cy="1025" rx="30" ry="16" transform="rotate(15 1500 1025)" style="fill:#f7e6cf"/>
<path d="M1267,1030 L1285,1048 M1285,1030 L1267,1048 M1485,1014 L1503,1032 M1503,1014 L1485,1032" stroke="#b33a3a" stroke-width="5"/>
<ellipse class="mo" cx="1395" cy="1127" rx="158" ry="83" style="fill:#f5dba8"/>
<ellipse class="mi" cx="1395" cy="1127" rx="144" ry="70" style="fill:#fbeedd"/>
<path class="cr" d="M1290,1065 L1290,1110 Q1300,1120 1310,1110 L1310,1065Z M1460,1060 L1460,1125 Q1470,1135 1480,1125 L1480,1060Z" style="fill:#f5dba8"/>
<rect x="1405" y="1040" width="8" height="25" rx="3" fill="#9fcf5e"/><rect x="1417" y="1040" width="8" height="25" rx="3" fill="#9fcf5e"/>
<text class="et" x="1440" y="1046">CPT</text>
<rect x="1230" y="1119" width="22" height="22" rx="5" fill="#9d87d4"/><rect x="1227" y="1126" width="28" height="6" fill="#6f58bd"/>
<rect x="1262" y="1126" width="28" height="8" fill="#e9f5e0" stroke="#5ea856" stroke-width=".6"/>
<circle cx="1335" cy="1127" r="14" fill="none" stroke="#333" stroke-width="1.5" stroke-dasharray="10 5"/>
<circle cx="1444" cy="1131" r="9" fill="#eaf6e0" stroke="#6bb060"/><text class="et" x="1444" y="1133">ADP</text>
<circle cx="1502" cy="1131" r="10" fill="#f6e94a" stroke="#c9b827"/><text class="et" x="1502" y="1133">ATP</text>
<path class="red" d="M1527,1118 L1527,1133" stroke-width="3"/><polygon class="red" points="1522,1131 1532,1131 1527,1145"/>
<path d="M1456,1205 L1456,1160 Q1474,1145 1492,1160 L1492,1200Z" fill="#d6efef" stroke="#5cb3b3"/><text class="et" x="1474" y="1163">ATP</text><text class="et" x="1474" y="1171">synthase</text>
<rect x="1370" y="1180" width="12" height="24" rx="5" fill="#d5f0f0" stroke="#5cb3b3"/>
<ellipse cx="1403" cy="1199" rx="11" ry="7" fill="#f1dcf3" stroke="#b65fc0"/><text class="et" x="1403" y="1201">Cyt C</text>
<path class="bx" d="M1322,1058 L1468,1215 M1468,1058 L1322,1215"/>
<text class="x" x="1395" y="1122" style="fill:#3a1010">Decreased</text><text class="x" x="1395" y="1133" style="fill:#3a1010">mt respiration</text>

<!-- MUSCLE -->
<g>
<path d="M700,672 L955,680 Q975,685 972,705 Q975,725 955,728 L700,728Z" fill="#f19a9a" stroke="#d06d72"/>
<path d="M700,672 L955,680 Q975,685 972,705 Q975,725 955,728 L700,728Z" fill="url(#str)"/>
<path d="M690,718 L958,723 Q978,730 975,748 Q978,768 958,772 L690,772Z" fill="#f19a9a" stroke="#d06d72"/>
<path d="M690,718 L958,723 Q978,730 975,748 Q978,768 958,772 L690,772Z" fill="url(#str)"/>
<path d="M690,762 L958,766 Q978,772 975,790 Q978,808 958,812 L690,812Z" fill="#f19a9a" stroke="#d06d72"/>
<path d="M690,762 L958,766 Q978,772 975,790 Q978,808 958,812 L690,812Z" fill="url(#str)"/>
<path d="M690,800 L958,804 Q978,810 975,822 Q976,835 958,836 L690,835Z" fill="#f19a9a" stroke="#d06d72"/>
<path d="M690,800 L958,804 Q978,810 975,822 Q976,835 958,836 L690,835Z" fill="url(#str)"/>
<g fill="#e07a7e" opacity=".6"><ellipse cx="735" cy="694" rx="18" ry="5"/><ellipse cx="870" cy="700" rx="18" ry="5"/><ellipse cx="795" cy="742" rx="18" ry="5"/><ellipse cx="925" cy="745" rx="18" ry="5"/><ellipse cx="740" cy="785" rx="18" ry="5"/><ellipse cx="905" cy="790" rx="18" ry="5"/><ellipse cx="760" cy="822" rx="18" ry="5"/></g>
<g fill="#d76a6f" stroke="#b8525a" stroke-width="1"><ellipse cx="698" cy="693" rx="12" ry="20"/><ellipse cx="683" cy="715" rx="12" ry="20"/><ellipse cx="704" cy="730" rx="12" ry="20"/><ellipse cx="684" cy="760" rx="13" ry="22"/><ellipse cx="705" cy="772" rx="12" ry="20"/><ellipse cx="726" cy="765" rx="11" ry="20"/><ellipse cx="686" cy="808" rx="12" ry="20"/><ellipse cx="714" cy="810" rx="12" ry="20"/></g>
<path d="M668,672 Q720,670 740,700 Q700,700 690,722 M785,665 Q770,700 740,710 L705,720 M785,665 Q800,700 860,712 Q900,710 928,690 L945,690 M880,712 Q890,740 905,770 Q895,800 895,835 L910,840 M765,710 Q770,740 790,765 L815,772 M790,765 Q750,780 735,830" stroke="#5cb7cf" stroke-width="2.5" fill="none"/>
</g>

<!-- NEURON -->
<g stroke="#80c6d8" stroke-linecap="round" fill="none">
<path d="M810,430 L760,402 L712,398" stroke-width="6"/>
<path d="M760,402 Q740,385 726,378" stroke-width="4"/>
<path d="M735,400 Q728,410 722,412" stroke-width="3"/>
<path d="M795,418 Q770,380 750,368 Q740,375 765,395" stroke-width="4.5"/>
<path d="M803,412 Q790,380 802,356 M795,382 Q785,365 780,353" stroke-width="4.5"/>
<path d="M818,414 Q812,385 822,348 M820,385 Q842,360 848,344" stroke-width="4.5"/>
<path d="M832,420 Q862,395 895,408 M852,405 Q872,385 887,384 M862,400 Q862,385 872,373" stroke-width="4.5"/>
<path d="M798,442 Q768,452 742,465 M768,453 Q754,462 750,478" stroke-width="4.5"/>
<path d="M815,450 Q818,465 820,490" stroke-width="4"/>
<path d="M842,458 L870,480 Q885,500 880,520 Q870,540 860,560 Q840,580 810,600 Q790,620 788,650 L782,668" stroke-width="4"/>
</g>
<path d="M790,418 Q810,400 835,418 Q845,432 835,448 Q812,462 790,448 Q780,432 790,418Z" fill="#80c6d8"/>
<ellipse cx="811" cy="432" rx="12" ry="9" fill="#4e9fc6"/><circle cx="811" cy="432" r="4" fill="#2f6fb7"/>
<g fill="#d8d5bf" stroke="#efece0" stroke-width="1.5" opacity=".95">
<rect x="846" y="466" width="34" height="16" rx="5" transform="rotate(40 863 474)"/>
<rect x="864" y="496" width="17" height="36" rx="5"/>
<rect x="834" y="557" width="38" height="16" rx="5" transform="rotate(-35 853 565)"/>
<rect x="796" y="586" width="38" height="16" rx="5" transform="rotate(-30 815 594)"/>
<rect x="783" y="617" width="16" height="32" rx="5" transform="rotate(-35 791 633)"/>
<rect x="776" y="643" width="14" height="28" rx="5"/>
</g>
</svg>
</body></html>
